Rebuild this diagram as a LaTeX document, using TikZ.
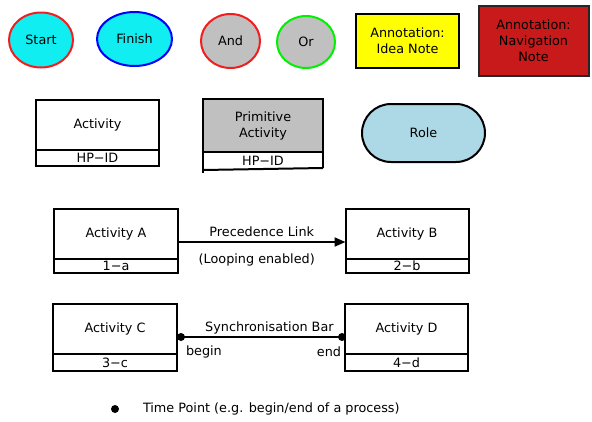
\documentclass[tikz,border=0pt]{standalone}
\usepackage{fontspec}
\setmainfont{DejaVu Sans}
\usetikzlibrary{shapes.geometric,arrows.meta,calc}

\definecolor{eventcyan}{RGB}{16,238,242}
\definecolor{gatefill}{RGB}{192,192,192}
\definecolor{idealyellow}{RGB}{255,255,0}
\definecolor{navred}{RGB}{200,26,26}
\definecolor{rolefill}{RGB}{173,216,230}
\definecolor{orgreen}{RGB}{0,240,0}
\definecolor{andred}{RGB}{240,30,30}

\begin{document}
\begin{tikzpicture}[x=1pt,y=-1pt,
  every node/.style={font=\fontsize{12.8}{16}\selectfont, inner sep=0pt, outer sep=0pt},
  oval/.style={ellipse, draw, line width=2pt},
  note/.style={rectangle, draw=black, line width=2pt, align=center},
  actbox/.style={rectangle, draw=black, line width=2pt, minimum height=50pt, align=center},
  idbox/.style={rectangle, draw=black, line width=2pt, anchor=north},
  link/.style={line width=2pt},
  timepoint/.style={circle, fill=black, minimum size=8pt},
  lbl/.style={font=\fontsize{12.8}{16}\selectfont}
]
\useasboundingbox (0,0) rectangle (592,421);

% --- event and gate symbols
\node[oval, draw=andred, fill=eventcyan, minimum width=64pt, minimum height=55pt] (start) at (41,40) {Start};
\node[oval, draw=blue, fill=eventcyan, minimum width=75pt, minimum height=54pt] (finish) at (134.5,39) {Finish};
\node[oval, draw=andred, fill=gatefill, minimum width=59pt, minimum height=54pt] (and) at (230.5,41) {And};
\node[oval, draw=orgreen, fill=gatefill, minimum width=58pt, minimum height=52pt] (or) at (306,42) {Or};

% --- annotations
\node[note, fill=idealyellow, minimum width=103pt, minimum height=54pt] (idea) at (407.5,41) {Annotation:\\Idea Note};
\node[note, fill=navred, draw=black!85, minimum width=110pt, minimum height=70pt] (nav) at (533.5,41) {Annotation:\\Navigation\\Note};

% --- activity templates
\node[actbox, minimum width=123pt] (act) at (97.5,125) {Activity};
\node[idbox, minimum width=123pt, minimum height=16pt] (actid) at (act.south) {HP−ID};

\node[actbox, fill=gatefill, minimum width=120pt, minimum height=53pt] (prim) at (263,125.5) {Primitive\\Activity};
\node[anchor=north, minimum width=120pt, minimum height=17pt] (primid) at (prim.south) {HP−ID};
\draw[line width=2pt] (prim.south west) -- ($(prim.south west)+(0,20.5)$);
\draw[line width=2pt] (prim.south east) -- ($(prim.south east)+(0,16)$) coordinate (pbr);
\draw[line width=2pt] ($(prim.south west)+(0,18)$) -- (pbr);

% --- role
\node[rectangle, draw=black, line width=2pt, fill=rolefill, rounded corners=29pt,
      minimum width=123pt, minimum height=58pt] (role) at (423.5,133) {Role};

% --- precedence link
\node[actbox, minimum width=124pt] (A) at (116,234) {Activity A};
\node[idbox, minimum width=124pt, minimum height=14pt] (Aid) at (A.south) {1−a};
\node[actbox, minimum width=123pt] (B) at (407,234) {Activity B};
\node[idbox, minimum width=123pt, minimum height=14pt] (Bid) at (B.south) {2−b};

\draw[link, -{Triangle[length=11pt,width=9pt]}] ([yshift=-8pt]A.east) -- ([yshift=-8pt]B.west)
  node[pos=0.5, lbl, above=5pt] (plink) {Precedence Link}
  node[pos=0.47, lbl, below=12pt] (ploop) {(Looping enabled)};

% --- synchronisation bar
\node[actbox, minimum width=124pt] (C) at (115,329) {Activity C};
\node[idbox, minimum width=124pt, minimum height=17pt] (Cid) at (C.south) {3−c};
\node[actbox, minimum width=123pt] (D) at (406.5,329) {Activity D};
\node[idbox, minimum width=123pt, minimum height=17pt] (Did) at (D.south) {4−d};

\coordinate (sb) at ($(C.east)+(4,8)$);
\coordinate (se) at ($(D.west)+(-3,8)$);
\draw[link] (C.east |- sb) -- (D.west |- se)
  node[pos=0.55, lbl, above=3pt] (sync) {Synchronisation Bar};
\node[timepoint] (tb) at (sb) {};
\node[timepoint] (te) at (se) {};
\node[lbl, anchor=west] (begin) at ($(sb)+(5,15)$) {begin};
\node[lbl, anchor=east] (end) at ($(se)+(-1,15)$) {end};

% --- legend
\node[timepoint] (tp) at (115,409) {};
\node[lbl, anchor=west] (tptext) at (143,409) {Time Point (e.g. begin/end of a process)};
\end{tikzpicture}
\end{document}
